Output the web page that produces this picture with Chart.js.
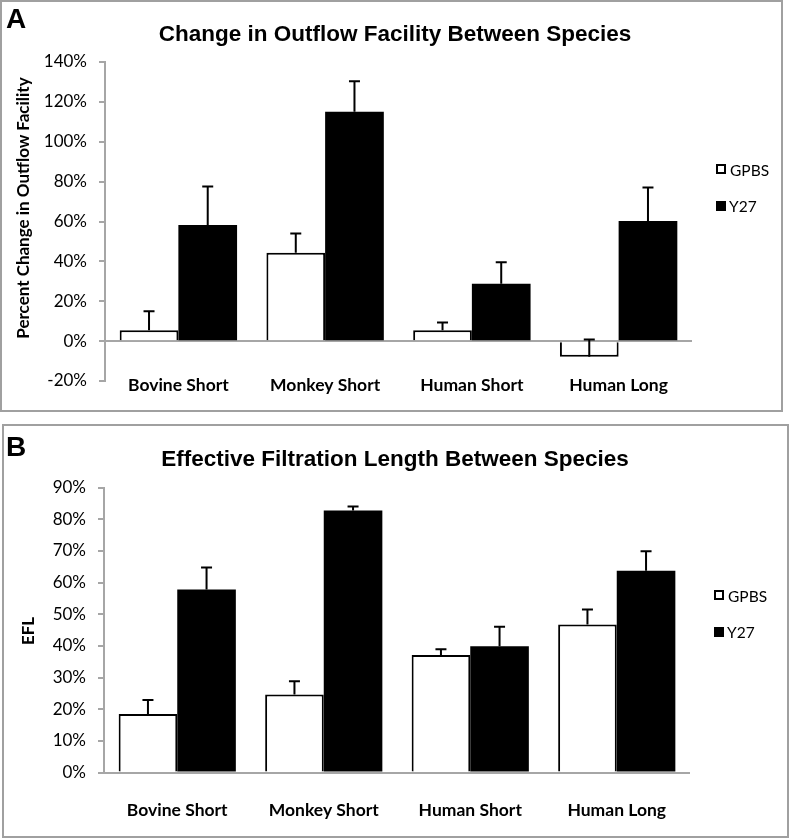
<!DOCTYPE html>
<html>
<head>
<meta charset="utf-8">
<script src="https://cdn.jsdelivr.net/npm/chart.js@4.4.0/dist/chart.umd.min.js"></script>
<style>
  body { margin: 0; background: #fff; width: 790px; height: 838px; position: relative; overflow: hidden; font-family: Lato, sans-serif; }
  .panel { position: absolute; border: 2px solid #a0a0a0; box-sizing: border-box; }
  .letter { position: absolute; font: bold 28px "Liberation Sans", Arial, sans-serif; line-height: 28px; color: #000; }
  .title { position: absolute; left: 0; width: 790px; text-align: center; font: bold 22.5px "Liberation Sans", Arial, sans-serif; line-height: 22.5px; color: #000; }
  .ytitle { position: absolute; font: bold 17px Lato, sans-serif; white-space: nowrap; transform: translate(-50%, -50%) rotate(-90deg); color: #000; }
  .sq { position: absolute; width: 10px; height: 10px; box-sizing: border-box; }
  .sq.white { border: 2px solid #000; background: #fff; }
  .sq.black { background: #000; }
  .lt { position: absolute; font: 15.5px Lato, sans-serif; transform: translateY(-50%); color: #000; }
  canvas { position: absolute; left: 0; }
</style>
</head>
<body>
<div class="panel" style="left:0;top:0;width:783px;height:412px"></div>
<div class="panel" style="left:2px;top:424px;width:787px;height:414px"></div>

<canvas id="chartA" width="790" height="415" style="top:0"></canvas>
<canvas id="chartB" width="790" height="418" style="top:420px"></canvas>

<div class="letter" style="left:6px;top:5px">A</div>
<div class="letter" style="left:6px;top:433px">B</div>
<div class="title" style="top:23px">Change in Outflow Facility Between Species</div>
<div class="title" style="top:448px">Effective Filtration Length Between Species</div>
<div class="ytitle" style="left:22px;top:208px">Percent Change in Outflow Facility</div>
<div class="ytitle" style="left:27px;top:631px">EFL</div>

<div class="sq white" style="left:716px;top:164px"></div>
<div class="lt" style="left:730px;top:170px">GPBS</div>
<div class="sq black" style="left:716px;top:201px"></div>
<div class="lt" style="left:729px;top:206px">Y27</div>

<div class="sq white" style="left:714px;top:590px"></div>
<div class="lt" style="left:728px;top:596px">GPBS</div>
<div class="sq black" style="left:714px;top:627px"></div>
<div class="lt" style="left:727px;top:632px">Y27</div>

<script>
// Categories
const species = ['Bovine Short', 'Monkey Short', 'Human Short', 'Human Long'];

// Panel A: percent change in outflow facility
const outflowGPBS = [5.5, 44.3, 5.5, -7.8];
const outflowGPBSErr = [9.5, 9.7, 3.8, 8.6];
const outflowY27 = [58.3, 115, 28.8, 60.2];
const outflowY27Err = [19.2, 15.3, 10.7, 16.8];
const outflowTicks = [-20, 0, 20, 40, 60, 80, 100, 120, 140];

// Panel B: effective filtration length
const eflGPBS = [18.5, 24.6, 37.1, 46.7];
const eflGPBSErr = [4.4, 4.2, 1.8, 4.8];
const eflY27 = [57.8, 82.7, 39.9, 63.7];
const eflY27Err = [6.9, 1.3, 6.1, 6.2];
const eflTicks = [0, 10, 20, 30, 40, 50, 60, 70, 80, 90];

const axisGray = '#a6a6a6';

// plus error bars drawn from each bar end
const errorBars = {
    id: 'errorBars',
    afterDatasetsDraw(chart) {
        const ctx = chart.ctx;
        const yScale = chart.scales.y;
        chart.data.datasets.forEach(function(ds, i) {
            const meta = chart.getDatasetMeta(i);
            meta.data.forEach(function(bar, j) {
                const y0 = yScale.getPixelForValue(ds.data[j]);
                const y1 = yScale.getPixelForValue(ds.data[j] + ds.errors[j]);
                ctx.save();
                ctx.strokeStyle = '#000';
                ctx.lineWidth = 2;
                ctx.beginPath();
                ctx.moveTo(bar.x, y0);
                ctx.lineTo(bar.x, y1);
                ctx.moveTo(bar.x - 5.5, y1);
                ctx.lineTo(bar.x + 5.5, y1);
                ctx.stroke();
                ctx.restore();
            });
        });
    }
};

// category names at the low end of the plot (Excel "low" label position)
const categoryLabels = {
    id: 'categoryLabels',
    afterDraw(chart, args, opts) {
        const ctx = chart.ctx;
        const xScale = chart.scales.x;
        ctx.save();
        ctx.font = 'bold 17.5px Lato';
        ctx.fillStyle = '#000';
        ctx.textAlign = 'center';
        ctx.textBaseline = 'middle';
        chart.data.labels.forEach(function(label, i) {
            ctx.fillText(label, xScale.getPixelForTick(i), chart.chartArea.bottom + opts.offset);
        });
        ctx.restore();
    }
};

function makeChart(id, gpbs, gpbsErr, y27, y27Err, ticks, opt) {
    const ctx = document.getElementById(id).getContext('2d');
    return new Chart(ctx, {
        type: 'bar',
        data: {
            labels: species,
            datasets: [{
                label: 'GPBS',
                data: gpbs,
                errors: gpbsErr,
                backgroundColor: '#fff',
                borderColor: '#000',
                borderWidth: 2,
                borderSkipped: 'start'
            }, {
                label: 'Y27',
                data: y27,
                errors: y27Err,
                backgroundColor: '#000',
                borderColor: '#000',
                borderWidth: 0
            }]
        },
        options: {
            responsive: false,
            animation: false,
            categoryPercentage: 0.8,
            barPercentage: 1.0,
            layout: {
                padding: { left: 0, right: opt.padRight, top: opt.padTop, bottom: 0 }
            },
            plugins: {
                legend: { display: false },
                title: { display: false },
                tooltip: { enabled: false },
                categoryLabels: { offset: opt.labelOffset }
            },
            scales: {
                x: {
                    grid: { display: false, drawTicks: false },
                    border: { display: false },
                    ticks: { display: false },
                    afterFit: function(scale) { scale.height = opt.xHeight; }
                },
                y: {
                    z: 1,
                    min: ticks[0],
                    max: ticks[ticks.length - 1],
                    afterBuildTicks: function(scale) {
                        scale.ticks = ticks.map(function(v) { return { value: v }; });
                    },
                    ticks: {
                        color: '#000',
                        font: { family: 'Lato', size: 17 },
                        padding: 12,
                        callback: function(v) { return v + '%'; }
                    },
                    grid: {
                        drawOnChartArea: true,
                        color: function(c) { return c.tick && c.tick.value === 0 ? axisGray : 'rgba(0,0,0,0)'; },
                        lineWidth: 2,
                        tickColor: axisGray,
                        tickLength: 6,
                        tickWidth: 2
                    },
                    border: { color: axisGray, width: 2 },
                    afterFit: function(scale) { scale.width = opt.yWidth; }
                }
            }
        },
        plugins: [errorBars, categoryLabels]
    });
}

makeChart('chartA', outflowGPBS, outflowGPBSErr, outflowY27, outflowY27Err, outflowTicks,
    { padRight: 98, padTop: 62, xHeight: 34, labelOffset: 4.5, yWidth: 105 });
makeChart('chartB', eflGPBS, eflGPBSErr, eflY27, eflY27Err, eflTicks,
    { padRight: 100, padTop: 67.5, xHeight: 65.5, labelOffset: 37.5, yWidth: 104 });
</script>
</body>
</html>
